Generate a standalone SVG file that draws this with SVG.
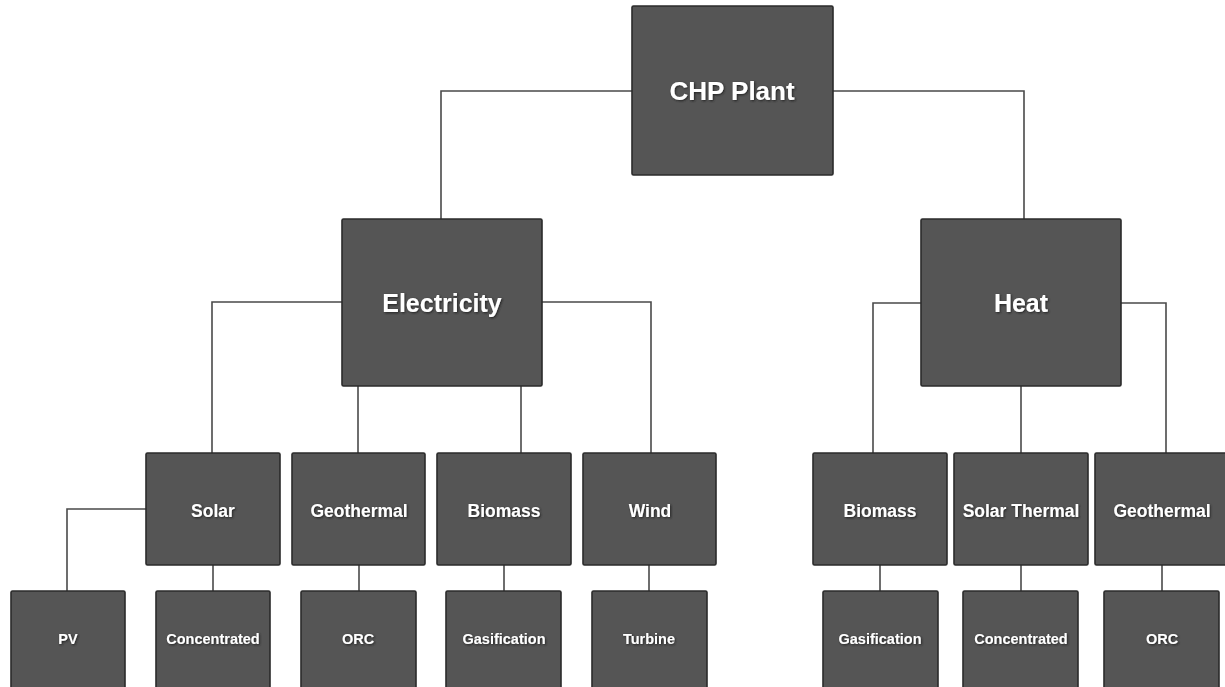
<svg xmlns="http://www.w3.org/2000/svg" width="1225" height="687" viewBox="0 0 1225 687">
<style>
.box{fill:#555555;stroke:#2b2b2b;stroke-width:1.6}
.t{fill:#ffffff;font-family:"Liberation Sans",Arial,sans-serif;font-weight:bold;text-anchor:middle;filter:url(#glow)}
.t1{font-size:26px}
.t2{font-size:25px}
.t3{font-size:17.5px}
.t4{font-size:14.5px}
.c{fill:none;stroke:#4a4a4a;stroke-width:1.6}
</style>
<defs>
<filter id="glow" x="-10%" y="-30%" width="120%" height="160%">
<feGaussianBlur in="SourceAlpha" stdDeviation="0.8"/>
<feOffset dx="0.5" dy="0.8" result="b"/>
<feFlood flood-color="#222"/>
<feComposite in2="b" operator="in"/>
<feMerge><feMergeNode/><feMergeNode in="SourceGraphic"/></feMerge>
</filter>
</defs>
<rect width="1225" height="687" fill="#ffffff"/>
<g id="connectors">
<path class="c" d="M632 91 H441 V219"/>
<path class="c" d="M833 91 H1024 V219"/>
<path class="c" d="M342 302 H212 V453"/>
<path class="c" d="M542 302 H651 V453"/>
<path class="c" d="M358 386 V453"/>
<path class="c" d="M521 386 V453"/>
<path class="c" d="M921 303 H873 V453"/>
<path class="c" d="M1121 303 H1166 V453"/>
<path class="c" d="M1021 386 V453"/>
<path class="c" d="M146 509 H67 V591"/>
<path class="c" d="M213 565 V591"/>
<path class="c" d="M359 565 V591"/>
<path class="c" d="M504 565 V591"/>
<path class="c" d="M649 565 V591"/>
<path class="c" d="M880 565 V591"/>
<path class="c" d="M1021 565 V591"/>
<path class="c" d="M1162 565 V591"/>
</g>
<g id="chp"><rect class="box" x="632" y="6" width="201" height="169" rx="1.5"/><text class="t t1" x="732" y="100">CHP Plant</text></g>
<g id="electricity"><rect class="box" x="342" y="219" width="200" height="167" rx="1.5"/><text class="t t2" x="442" y="312">Electricity</text></g>
<g id="heat"><rect class="box" x="921" y="219" width="200" height="167" rx="1.5"/><text class="t t2" x="1021" y="312">Heat</text></g>
<g id="solar"><rect class="box" x="146" y="453" width="134" height="112" rx="1.5"/><text class="t t3" x="213" y="517">Solar</text></g>
<g id="geothermal-e"><rect class="box" x="292" y="453" width="133" height="112" rx="1.5"/><text class="t t3" x="359" y="517">Geothermal</text></g>
<g id="biomass-e"><rect class="box" x="437" y="453" width="134" height="112" rx="1.5"/><text class="t t3" x="504" y="517">Biomass</text></g>
<g id="wind"><rect class="box" x="583" y="453" width="133" height="112" rx="1.5"/><text class="t t3" x="650" y="517">Wind</text></g>
<g id="biomass-h"><rect class="box" x="813" y="453" width="134" height="112" rx="1.5"/><text class="t t3" x="880" y="517">Biomass</text></g>
<g id="solar-thermal"><rect class="box" x="954" y="453" width="134" height="112" rx="1.5"/><text class="t t3" x="1021" y="517">Solar Thermal</text></g>
<g id="geothermal-h"><rect class="box" x="1095" y="453" width="134" height="112" rx="1.5"/><text class="t t3" x="1162" y="517">Geothermal</text></g>
<g id="pv"><rect class="box" x="11" y="591" width="114" height="110" rx="1.5"/><text class="t t4" x="68" y="644">PV</text></g>
<g id="concentrated-e"><rect class="box" x="156" y="591" width="114" height="110" rx="1.5"/><text class="t t4" x="213" y="644">Concentrated</text></g>
<g id="orc-e"><rect class="box" x="301" y="591" width="115" height="110" rx="1.5"/><text class="t t4" x="358" y="644">ORC</text></g>
<g id="gasification-e"><rect class="box" x="446" y="591" width="115" height="110" rx="1.5"/><text class="t t4" x="504" y="644">Gasification</text></g>
<g id="turbine"><rect class="box" x="592" y="591" width="115" height="110" rx="1.5"/><text class="t t4" x="649" y="644">Turbine</text></g>
<g id="gasification-h"><rect class="box" x="823" y="591" width="115" height="110" rx="1.5"/><text class="t t4" x="880" y="644">Gasification</text></g>
<g id="concentrated-h"><rect class="box" x="963" y="591" width="115" height="110" rx="1.5"/><text class="t t4" x="1021" y="644">Concentrated</text></g>
<g id="orc-h"><rect class="box" x="1104" y="591" width="115" height="110" rx="1.5"/><text class="t t4" x="1162" y="644">ORC</text></g>
</svg>
